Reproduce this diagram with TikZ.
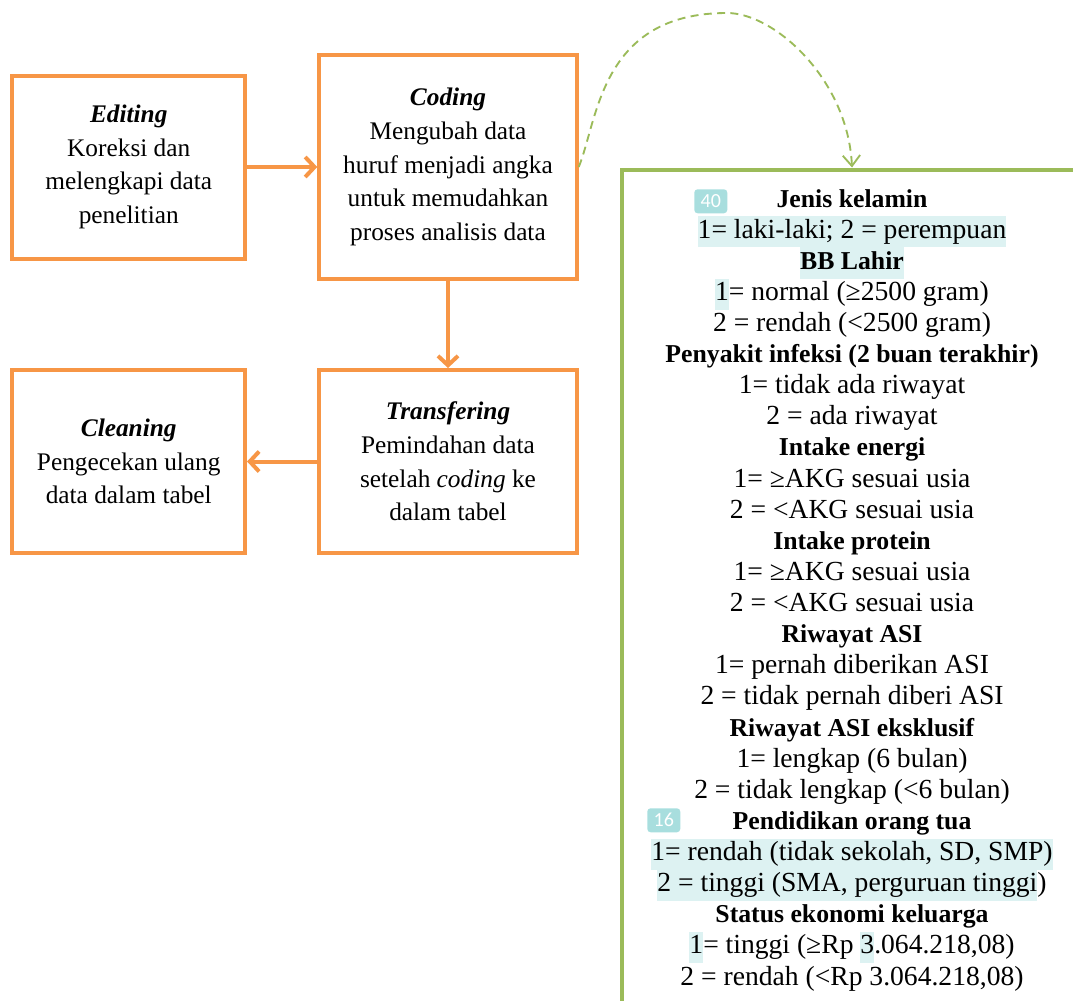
\documentclass[tikz,border=0pt]{standalone}
\usepackage{fontspec}
\setmainfont{Liberation Serif}
\newfontfamily\badgefont{Carlito}
\usetikzlibrary{arrows.meta}
\definecolor{orn}{RGB}{247,150,70}
\definecolor{grn}{RGB}{155,187,89}
\definecolor{hlcol}{RGB}{221,242,242}
\definecolor{badgecol}{RGB}{168,222,222}
\newcommand\hl[1]{{\setlength{\fboxsep}{0pt}\colorbox{hlcol}{\strut#1}}}
\newcommand\bt[1]{{\fontsize{19.3}{23.34}\selectfont\textbf{#1}}}
\tikzset{
  obox/.style={draw=orn, line width=3pt, align=center, inner sep=0pt,
    font=\fontsize{19}{25.2}\selectfont},
  oarrow/.style={draw=orn, line width=3pt, -{Straight Barb[length=7pt,width=15pt]}},
  garrow/.style={draw=grn, line width=1.4pt, dash pattern=on 6pt off 4pt,
    -{Straight Barb[length=8pt,width=13pt]}},
  vline/.style={anchor=base, inner sep=0pt, font=\fontsize{20.7}{23.34}\selectfont},
  badge/.style={fill=badgecol, rounded corners=2.5pt, text=white, inner sep=0pt,
    font=\badgefont\fontsize{15}{15}\selectfont}
}
\begin{document}
\begin{tikzpicture}[x=0.75pt,y=-0.75pt]
\useasboundingbox (0,0) rectangle (1073,1000);
\clip (0,0) rectangle (1073,1000);

\node[obox, minimum width=174.4pt, minimum height=137.25pt] (edit) at (128.75,167)
  {\textbf{\textit{Editing}}\\Koreksi dan\\melengkapi data\\penelitian};
\node[obox, minimum width=193.1pt, minimum height=168pt] (coding) at (448,167)
  {\textbf{\textit{Coding}}\\Mengubah data\\huruf menjadi angka\\untuk memudahkan\\proses analisis data};
\node[obox, minimum width=193.1pt, minimum height=137.25pt] (trans) at (448,461.5)
  {\textbf{\textit{Transfering}}\\Pemindahan data\\setelah \textit{coding} ke\\dalam tabel};
\node[obox, minimum width=174.4pt, minimum height=137.25pt] (clean) at (128.75,461.5)
  {\textbf{\textit{Cleaning}}\\Pengecekan ulang\\data dalam tabel};

\draw[oarrow] (edit.east) -- (edit.east -| coding.west);
\draw[oarrow] (coding.south) -- (trans.north);
\draw[oarrow] (trans.west) -- (clean.east);

\node[draw=grn, line width=3pt, minimum width=345.75pt, minimum height=646.9pt,
  anchor=north, inner sep=0pt] (vars) at (852,167.5) {};

\foreach \t [count=\i] in {
  {\bt{Jenis kelamin}},
  {\hl{1= laki-laki; 2 = perempuan}},
  {\hl{\bt{BB Lahir}}},
  {\hl{1}= normal (≥2500 gram)},
  {2 = rendah (<2500 gram)},
  {\bt{Penyakit infeksi (2 buan terakhir)}},
  {1= tidak ada riwayat},
  {2 = ada riwayat},
  {\bt{Intake energi}},
  {1= ≥AKG sesuai usia},
  {2 = <AKG sesuai usia},
  {\bt{Intake protein}},
  {1= ≥AKG sesuai usia},
  {2 = <AKG sesuai usia},
  {\bt{Riwayat ASI}},
  {1= pernah diberikan ASI},
  {2 = tidak pernah diberi ASI},
  {\bt{Riwayat ASI eksklusif}},
  {1= lengkap (6 bulan)},
  {2 = tidak lengkap (<6 bulan)},
  {\bt{Pendidikan orang tua}},
  {\hl{1= rendah (tidak sekolah, SD, SMP)}},
  {\hl{2 = tinggi (SMA, perguruan tinggi}\kern0pt)},
  {\bt{Status ekonomi keluarga}},
  {\hl{1}= tinggi (≥Rp \hl{3}.064.218,08)},
  {2 = rendah (<Rp 3.064.218,08)}}
{
  \node[vline] (l\i) at (852,{207+31.12*(\i-1)}) {\t};
}

\node[badge, minimum width=24.75pt, minimum height=18pt, anchor=north west] (b40) at (694,189) {40};
\node[badge, minimum width=24.75pt, minimum height=18pt, anchor=north west] (b16) at (647,808) {16};

\coordinate (ctop) at (727,13);
\draw[garrow] (coding.east) .. controls (598,120) and (600,13) .. (ctop)
  .. controls (775,13) and (848,80) .. (vars.north);
\end{tikzpicture}
\end{document}
